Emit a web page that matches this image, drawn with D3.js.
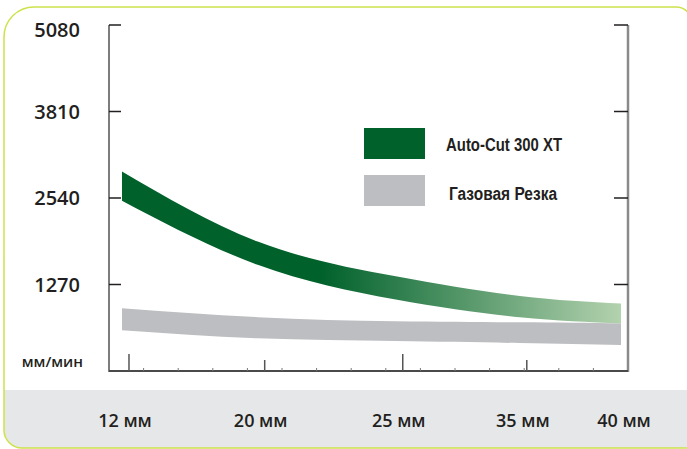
<!DOCTYPE html>
<html>
<head>
<meta charset="utf-8">
<script src="https://cdn.jsdelivr.net/npm/d3@7"></script>
<style>
body { margin: 0; background: #fff; }
svg { display: block; }
</style>
</head>
<body>
<div id="vis"></div>
<script>
// data (мм/мин)
var thickness = ["12 мм", "20 мм", "25 мм", "35 мм", "40 мм"];
var yTicks = [1270, 2540, 3810, 5080];
var autoCutHigh = [2930, 1900, 1390, 1100, 990];
var autoCutLow = [2500, 1560, 1050, 790, 700];
var gasHigh = [920, 790, 730, 715, 700];
var gasLow = [600, 480, 440, 410, 380];
var legendNames = ["Auto-Cut 300 XT", "Газовая Резка"];
var unitLabel = "мм/мин";

var width = 687, height = 449;
var plotLeft = 109, plotRight = 628, plotTop = 25, plotBottom = 371;
var textColor = "#231f20",
    frameColor = "#cde24b",
    greenColor = "#00612b",
    grayColor = "#bdbec1";
var labelFont = "'Open Sans', 'Liberation Sans', sans-serif";
var legendFont = "'Liberation Sans Narrow', 'Liberation Sans', sans-serif";

var y = d3.scaleLinear().domain([0, 5080]).range([plotBottom, plotTop]);
// category positions along the bottom are not evenly spaced in the original
var xPos = d3.scaleLinear()
    .domain([0, 1, 2, 3, 4])
    .range([0.0385, 0.30, 0.566, 0.805, 1].map(function(f) { return plotLeft + f * (plotRight - plotLeft); }));
var bandShift = -7;
var minor = d3.scaleLinear().domain([0, 15]).range([plotLeft, plotRight]);

var svg = d3.select("#vis")
    .append("svg")
    .attr("width", width)
    .attr("height", height);

var defs = svg.append("defs");
var grad = defs.append("linearGradient")
    .attr("id", "greenFade")
    .attr("gradientUnits", "userSpaceOnUse")
    .attr("x1", 320).attr("x2", xPos(4) + bandShift)
    .attr("y1", 0).attr("y2", 0);
grad.append("stop").attr("offset", 0).attr("stop-color", greenColor);
grad.append("stop").attr("offset", 1).attr("stop-color", "#b3d2ae");

// bottom grey strip + frame
svg.append("path")
    .attr("d", "M4,390 H700 V448 H22 A18,18 0 0 1 4,430 Z")
    .style("fill", "#e6e7e8");
svg.append("path")
    .attr("d", "M700,448 H22 A18,18 0 0 1 4,430 V37 A30,30 0 0 1 34,7 H676 A16,16 0 0 1 692,23 V460")
    .style("fill", "none")
    .style("stroke", frameColor)
    .style("stroke-width", 1.5);

// bands
function bandData(high, low) {
    return high.map(function(h, i) { return { i: i, high: h, low: low[i] }; });
}
var area = d3.area()
    .x(function(d) { return xPos(d.i) + bandShift; })
    .y0(function(d) { return y(d.low); })
    .y1(function(d) { return y(d.high); })
    .curve(d3.curveNatural);

svg.append("path")
    .datum(bandData(gasHigh, gasLow))
    .attr("d", area)
    .style("fill", grayColor);
svg.append("path")
    .datum(bandData(autoCutHigh, autoCutLow))
    .attr("d", area)
    .style("fill", "url(#greenFade)");

// axes
svg.append("line")
    .attr("x1", plotLeft).attr("x2", plotLeft).attr("y1", plotTop).attr("y2", plotBottom + 1)
    .style("stroke", "#7d7d7d").style("stroke-width", 2);
svg.append("line")
    .attr("x1", plotRight).attr("x2", plotRight).attr("y1", plotTop).attr("y2", plotBottom + 1)
    .style("stroke", "#8a8a8a").style("stroke-width", 2.5);
svg.append("line")
    .attr("x1", plotLeft).attr("x2", plotRight).attr("y1", plotBottom).attr("y2", plotBottom)
    .style("stroke", "#4a4a4a").style("stroke-width", 2);

svg.selectAll("line.ytick-left")
    .data(yTicks).enter().append("line")
    .attr("class", "ytick-left")
    .attr("x1", plotLeft).attr("x2", plotLeft + 12)
    .attr("y1", d => y(d)).attr("y2", d => y(d))
    .style("stroke", textColor).style("stroke-width", 1.5);
svg.selectAll("line.ytick-right")
    .data(yTicks).enter().append("line")
    .attr("class", "ytick-right")
    .attr("x1", plotRight - 14).attr("x2", plotRight)
    .attr("y1", d => y(d)).attr("y2", d => y(d))
    .style("stroke", textColor).style("stroke-width", 1.5);

svg.selectAll("line.minor")
    .data(d3.range(1, 15)).enter().append("line")
    .attr("class", "minor")
    .attr("x1", d => minor(d)).attr("x2", d => minor(d))
    .attr("y1", plotBottom).attr("y2", plotBottom - 3)
    .style("stroke", "#777").style("stroke-width", 1);

svg.selectAll("line.xtick")
    .data(thickness.slice(0, 4)).enter().append("line")
    .attr("class", "xtick")
    .attr("x1", (d, i) => xPos(i)).attr("x2", (d, i) => xPos(i))
    .attr("y1", plotBottom).attr("y2", (d, i) => i % 2 ? plotBottom - 11 : plotBottom - 17)
    .style("stroke", "#555").style("stroke-width", 1.5);

// labels
svg.selectAll("text.ylabel")
    .data(yTicks).enter().append("text")
    .attr("class", "ylabel")
    .attr("x", 80).attr("y", d => y(d) + (d === 5080 ? 5 : 0))
    .attr("dy", "0.36em")
    .attr("text-anchor", "end")
    .style("font-family", labelFont).style("font-weight", 600)
    .style("font-size", "20px").style("fill", textColor)
    .text(d => d);

svg.append("text")
    .attr("x", 83).attr("y", 362)
    .attr("dy", "0.36em")
    .attr("text-anchor", "end")
    .style("font-family", labelFont).style("font-weight", 600)
    .style("font-size", "15px").style("fill", textColor)
    .text(unitLabel);

svg.selectAll("text.xlabel")
    .data(thickness).enter().append("text")
    .attr("class", "xlabel")
    .attr("x", (d, i) => xPos(i) - 4).attr("y", 421)
    .attr("dy", "0.36em")
    .attr("text-anchor", "middle")
    .style("font-family", labelFont).style("font-weight", 600)
    .style("font-size", "18px").style("fill", textColor)
    .text(d => d);

// legend
var legend = svg.selectAll("g.legend")
    .data(legendNames).enter().append("g")
    .attr("class", "legend")
    .attr("transform", (d, i) => "translate(364," + (128 + i * 47) + ")");
legend.append("rect")
    .attr("width", 61).attr("height", 31)
    .style("fill", (d, i) => i ? grayColor : greenColor);
legend.append("text")
    .attr("x", (d, i) => i ? 85 : 82).attr("y", (d, i) => i ? 19 : 17)
    .attr("dy", "0.36em")
    .attr("textLength", (d, i) => i ? 108 : 116)
    .attr("lengthAdjust", "spacingAndGlyphs")
    .style("font-family", legendFont).style("font-weight", "bold")
    .style("font-size", "18px").style("fill", textColor)
    .text(d => d);
</script>
</body>
</html>
